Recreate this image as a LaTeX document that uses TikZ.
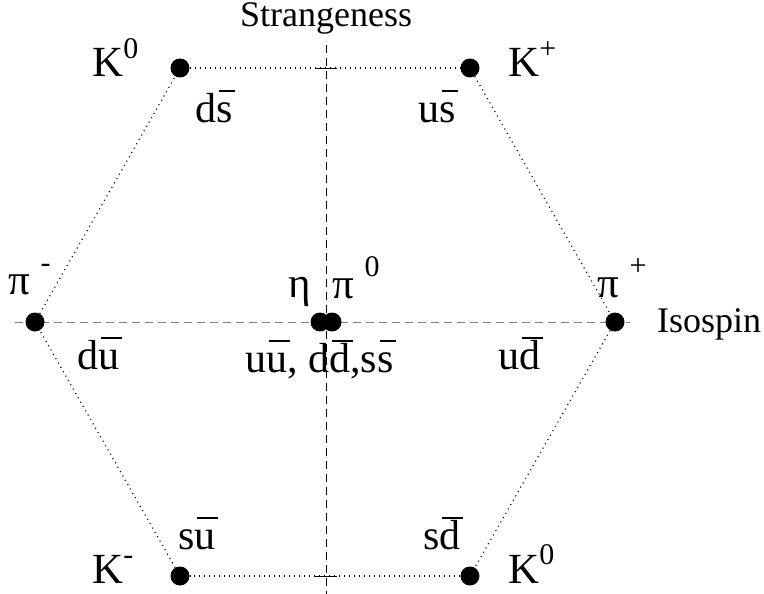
\documentclass[tikz,border=0pt]{standalone}
\usepackage{fontspec}
\setmainfont{Liberation Serif}
\usetikzlibrary{positioning}

\newlength{\qlen}
\newcommand{\psup}[1]{\raisebox{0.42em}{\fontsize{30}{30}\selectfont #1}}
\newcommand{\pisup}[1]{\hspace{0.25em}\raisebox{0.5em}{\fontsize{30}{30}\selectfont #1}}
\newcommand{\qbar}[2]{#1\settowidth{\qlen}{#2}\rlap{\hspace{0.06em}\rule[0.72em]{\qlen}{0.045em}}#2}

\begin{document}
\begin{tikzpicture}[
  x=1pt, y=-1pt,
  meson/.style={circle, fill, inner sep=0pt, minimum size=19pt},
  pname/.style={font=\fontsize{43}{43}\selectfont, inner sep=0pt, anchor=base west},
  quark/.style={font=\fontsize{42}{42}\selectfont, inner sep=0pt, anchor=base west},
  axislabel/.style={font=\fontsize{36}{36}\selectfont, inner sep=0pt, anchor=base west},
  axis/.style={dash pattern=on 8pt off 5pt, line width=0.8pt},
  edge/.style={dash pattern=on 1pt off 4pt, line width=1.2pt},
  tick/.style={line width=0.8pt}
]
\useasboundingbox (0,0) rectangle (764,594);

% axes
\coordinate (sTop) at (326,45);
\coordinate (sBot) at (326,594);
\coordinate (iLeft) at (15,322);
\coordinate (iRight) at (630,322);
\draw[axis] (sTop) -- (sBot);
\draw[axis, gray] (iLeft) -- (iRight);
\node[axislabel] (strange) at (240,27) {Strangeness};
\node[axislabel] (isospin) at (657,332) {Isospin};

% mesons
\node[meson] (K0u) at (180,68) {};
\node[meson] (Kp) at (470,68) {};
\node[meson] (pim) at (35,322) {};
\node[meson] (eta) at (320,322) {};
\node[meson] (pi0) at (332,322) {};
\node[meson] (pip) at (615,322) {};
\node[meson] (Km) at (180,576) {};
\node[meson] (K0d) at (470,576) {};

% hexagon
\draw[edge] (K0u) -- (Kp);
\draw[edge] (Kp) -- (pip);
\draw[edge] (pip) -- (K0d);
\draw[edge] (K0d) -- (Km);
\draw[edge] (Km) -- (pim);
\draw[edge] (pim) -- (K0u);

% ticks on the strangeness axis
\coordinate (tickU) at (326,68);
\coordinate (tickD) at (326,576);
\draw[tick] ([xshift=-11pt]tickU) -- ([xshift=11pt]tickU);
\draw[tick] ([xshift=-11pt]tickD) -- ([xshift=11pt]tickD);

% particle names
\node[pname] (K0uL) at (92,77) {K\psup{0}};
\node[pname] (KpL) at (508,77) {K\psup{+}};
\node[pname] (pimL) at (8,294) {π\pisup{-}};
\node[pname] (etaL) at (288,297) {η};
\node[pname] (pi0L) at (332,298) {π\pisup{0}};
\node[pname] (pipL) at (597,297) {π\pisup{+}};
\node[pname] (KmL) at (92,583) {K\psup{-}};
\node[pname] (K0dL) at (508,583) {K\psup{0}};

% quark content
\node[quark] (K0uQ) at (195,122) {\qbar{d}{s}};
\node[quark] (KpQ) at (418,122) {\qbar{u}{s}};
\node[quark] (pimQ) at (77,369) {\qbar{d}{u}};
\node[quark] (pi0Q) at (245,372) {\qbar{u}{u}, \qbar{d}{d},\qbar{s}{s}};
\node[quark] (pipQ) at (498,369) {\qbar{u}{d}};
\node[quark] (KmQ) at (178,549) {\qbar{s}{u}};
\node[quark] (K0dQ) at (423,549) {\qbar{s}{d}};
\end{tikzpicture}
\end{document}
